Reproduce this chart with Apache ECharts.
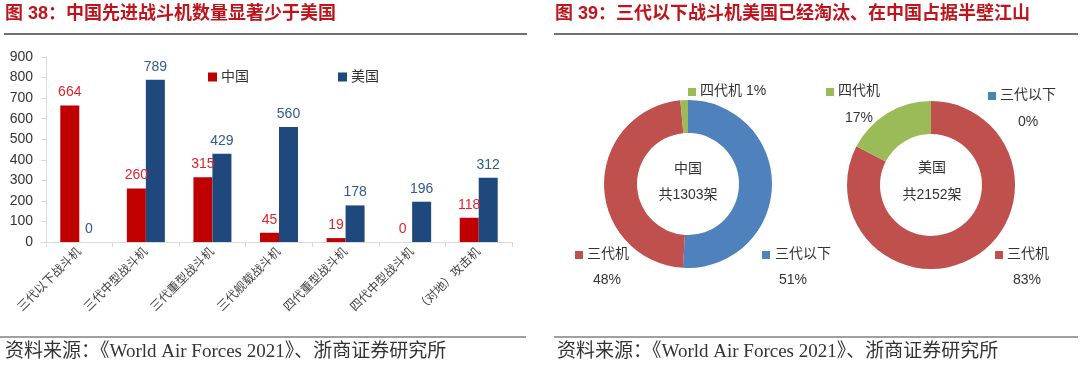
<!DOCTYPE html>
<html>
<head>
<meta charset="utf-8">
<script src="https://cdn.jsdelivr.net/npm/echarts@6/dist/echarts.min.js"></script>
<style>
html,body{margin:0;padding:0;background:#fff;}
#c{width:1080px;height:372px;}
</style>
</head>
<body>
<div id="c"></div>
<script>
// ---- data ----
const categories = ['三代以下战斗机','三代中型战斗机','三代重型战斗机','三代舰载战斗机','四代重型战斗机','四代中型战斗机','（对地）攻击机'];
const chinaValues = [664, 260, 315, 45, 19, 0, 118];
const usaValues = [0, 789, 429, 560, 178, 196, 312];
const yTicks = [0, 900, 100]; // min, max, interval
const pieNames = ['三代以下', '三代机', '四代机'];
const chinaPie = [664, 620, 19];
const usaPie = [0, 1778, 374];
const chinaTotal = 1303;
const usaTotal = 2152;
const title1 = '图 38：中国先进战斗机数量显著少于美国';
const title2 = '图 39：三代以下战斗机美国已经淘汰、在中国占据半壁江山';
const source = '资料来源：《World Air Forces 2021》、浙商证券研究所';

// ---- styles ----
const RED = '#C00000', NAVY = '#1F497D';
const pieColors = ['#4F81BD', '#C0504D', '#9BBB59'];
const CJK = '"Liberation Sans","Noto Sans CJK SC",sans-serif';
const SERIF = '"Liberation Serif","Noto Sans CJK SC",serif';

function pct(v, t) { return Math.round(v / t * 100) + '%'; }

const chinaLabelPos = [
  {mx: 762, my: 251, tx: 775, px: 793, py: 280, inline: false},
  {mx: 575, my: 251, tx: 587, px: 607, py: 280, inline: false},
  {mx: 688, my: 88, tx: 700, inline: true}
];
const usaLabelPos = [
  {mx: 988, my: 92, tx: 1000, px: 1028, py: 122, inline: false},
  {mx: 995, my: 251, tx: 1007, px: 1027, py: 280, inline: false},
  {mx: 826, my: 88, tx: 838, px: 859, py: 118, inline: false}
];

function pieLabelGraphics(values, total, posList) {
  const out = [];
  values.forEach((v, i) => {
    const p = posList[i];
    out.push({type: 'rect', left: p.mx, top: p.my, shape: {width: 8, height: 8}, style: {fill: pieColors[i]}});
    const txt = p.inline ? pieNames[i] + ' ' + pct(v, total) : pieNames[i];
    out.push({type: 'text', left: p.tx, top: p.my - 4, style: {text: txt, font: '14px ' + CJK, fill: '#333'}});
    if (!p.inline) {
      out.push({type: 'text', x: p.px, y: p.py, style: {text: pct(v, total), font: '14px ' + CJK, fill: '#333', textAlign: 'center', textVerticalAlign: 'middle'}});
    }
  });
  return out;
}

const chart = echarts.init(document.getElementById('c'));
const graphics = [
  {type: 'text', left: 5, top: 5, style: {text: title1, font: 'bold 18px ' + CJK, fill: '#C0141C'}},
  {type: 'text', left: 555, top: 5, style: {text: title2, font: 'bold 18px ' + CJK, fill: '#C0141C'}},
  {type: 'line', shape: {x1: 4, y1: 34, x2: 527, y2: 34}, style: {stroke: '#404040', lineWidth: 1.5}},
  {type: 'line', shape: {x1: 554, y1: 34, x2: 1078, y2: 34}, style: {stroke: '#404040', lineWidth: 1.5}},
  {type: 'line', shape: {x1: 0, y1: 337, x2: 526, y2: 337}, style: {stroke: '#A0A0A0', lineWidth: 2}},
  {type: 'line', shape: {x1: 554, y1: 337, x2: 1078, y2: 337}, style: {stroke: '#A0A0A0', lineWidth: 2}},
  {type: 'text', left: 5, top: 343, style: {text: source, font: '19px ' + SERIF, fill: '#333'}},
  {type: 'text', left: 557, top: 343, style: {text: source, font: '19px ' + SERIF, fill: '#333'}},
  {type: 'text', x: 688, y: 169, style: {text: '中国', font: '14px ' + CJK, fill: '#333', textAlign: 'center', textVerticalAlign: 'middle'}},
  {type: 'text', x: 688, y: 195, style: {text: '共' + chinaTotal + '架', font: '14px ' + CJK, fill: '#333', textAlign: 'center', textVerticalAlign: 'middle'}},
  {type: 'text', x: 932, y: 168, style: {text: '美国', font: '14px ' + CJK, fill: '#333', textAlign: 'center', textVerticalAlign: 'middle'}},
  {type: 'text', x: 932, y: 195, style: {text: '共' + usaTotal + '架', font: '14px ' + CJK, fill: '#333', textAlign: 'center', textVerticalAlign: 'middle'}}
].concat(pieLabelGraphics(chinaPie, chinaTotal, chinaLabelPos), pieLabelGraphics(usaPie, usaTotal, usaLabelPos));

chart.setOption({
  animation: false,
  textStyle: {fontFamily: CJK},
  legend: {
    left: 203, top: 65, itemWidth: 9, itemHeight: 9, itemGap: 89,
    icon: 'rect',
    textStyle: {fontSize: 14, color: '#333', padding: [0, 0, 0, -1]},
    data: ['中国', '美国']
  },
  grid: {left: 46, right: 568, top: 57, bottom: 130},
  xAxis: {
    type: 'category', data: categories,
    axisLine: {lineStyle: {color: '#D9D9D9'}},
    axisTick: {show: true, length: 5, lineStyle: {color: '#D9D9D9'}},
    axisLabel: {rotate: 45, fontSize: 12, color: '#404040', margin: 8, interval: 0}
  },
  yAxis: {
    type: 'value', min: yTicks[0], max: yTicks[1], interval: yTicks[2],
    axisLine: {show: true, lineStyle: {color: '#D9D9D9'}},
    axisTick: {show: true, length: 5, lineStyle: {color: '#D9D9D9'}},
    splitLine: {show: false},
    axisLabel: {fontSize: 14, color: '#333', margin: 13, fontFamily: '"Liberation Sans",sans-serif'}
  },
  series: [
    {
      name: '中国', type: 'bar', data: chinaValues, barWidth: 19, barGap: '0%',
      itemStyle: {color: RED},
      label: {show: true, position: 'top', distance: 6, fontSize: 14, color: '#E0242C', fontFamily: '"Liberation Sans",sans-serif'}
    },
    {
      name: '美国', type: 'bar', data: usaValues, barWidth: 19,
      itemStyle: {color: NAVY},
      label: {show: true, position: 'top', distance: 6, fontSize: 14, color: '#2F5A96', fontFamily: '"Liberation Sans",sans-serif'}
    },
    {
      type: 'pie', center: [688, 184], radius: [51, 84], startAngle: 90, clockwise: true,
      label: {show: false}, labelLine: {show: false}, silent: true,
      data: pieNames.map((n, i) => ({name: n, value: chinaPie[i], itemStyle: {color: pieColors[i]}}))
    },
    {
      type: 'pie', center: [931, 185], radius: [51, 84], startAngle: 90, clockwise: true,
      label: {show: false}, labelLine: {show: false}, silent: true,
      data: pieNames.map((n, i) => ({name: n, value: usaPie[i], itemStyle: {color: pieColors[i]}}))
    }
  ],
  graphic: graphics
});
</script>
</body>
</html>
